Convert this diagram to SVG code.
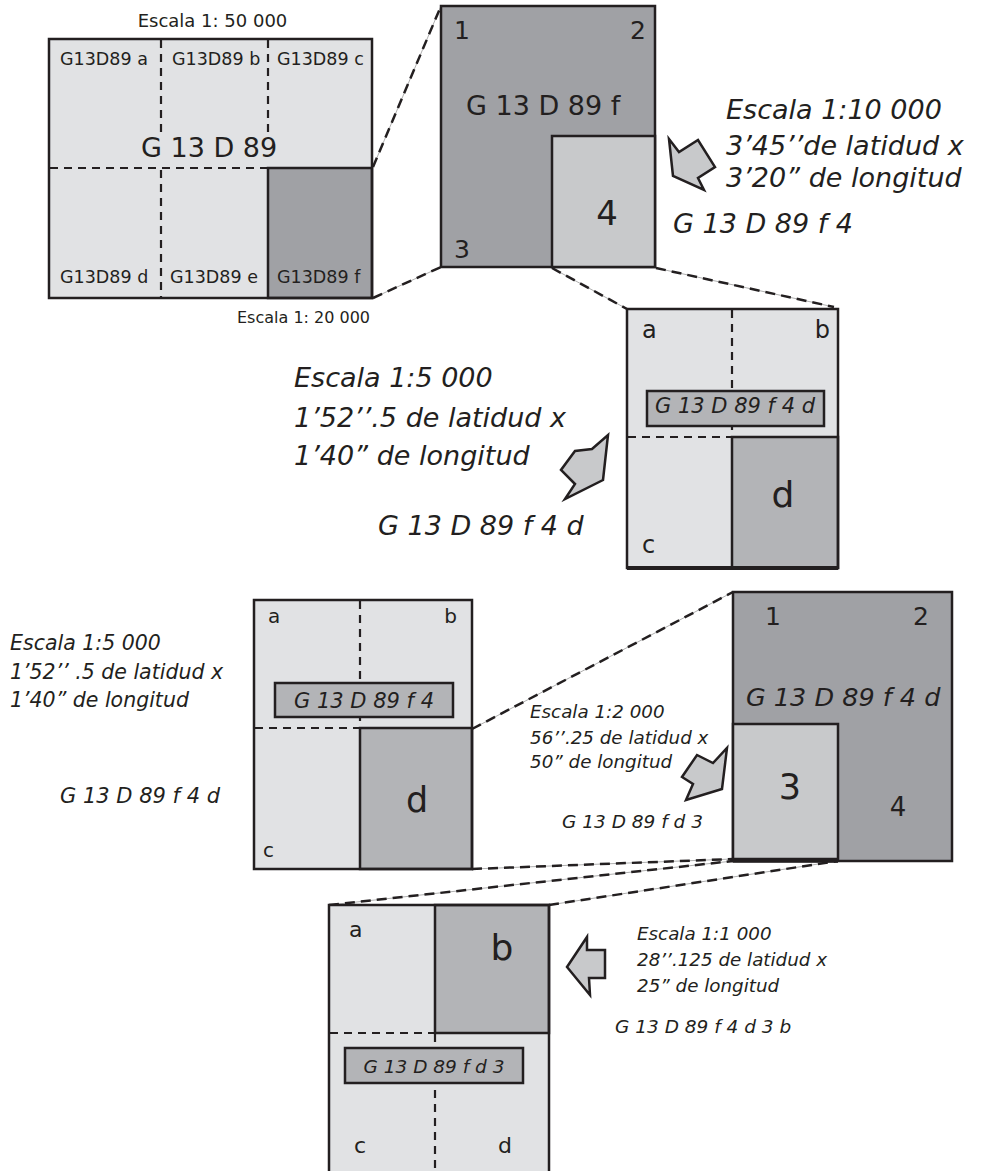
<svg xmlns="http://www.w3.org/2000/svg" width="990" height="1171" viewBox="0 0 990 1171">
<style>
.t{font-family:"DejaVu Sans","Liberation Sans",sans-serif;fill:#231f20}
.i{font-style:italic}
.frame{stroke:#231f20;stroke-width:2.5}
.light{fill:#e1e2e4}
.dark{fill:#a0a1a5}
.mid{fill:#b3b4b7}
.pale{fill:#c8c9cb}
.grid{stroke:#231f20;stroke-width:2.2;stroke-dasharray:8 6;fill:none}
.con{stroke:#231f20;stroke-width:2.5;stroke-dasharray:10 6;fill:none}
.conb{stroke:#9a9a9a;stroke-width:0.8;fill:none}
.arrow{fill:#c8c9cb;stroke:#231f20;stroke-width:2.5;stroke-linejoin:miter}
</style>
<rect width="990" height="1171" fill="#fff"/>

<g id="connectors">
  <g class="conb">
    <line x1="373" y1="167" x2="441" y2="6"/>
    <line x1="373" y1="298" x2="441" y2="267"/>
    <line x1="552" y1="268" x2="627" y2="309"/>
    <line x1="656" y1="268" x2="834" y2="307"/>
    <line x1="472" y1="729" x2="733" y2="592"/>
    <line x1="472" y1="869" x2="733" y2="859"/>
    <line x1="329" y1="905" x2="733" y2="861"/>
    <line x1="549" y1="905" x2="838" y2="861"/>
  </g>
  <g class="con">
    <line x1="373" y1="167" x2="441" y2="6"/>
    <line x1="373" y1="298" x2="441" y2="267"/>
    <line x1="552" y1="268" x2="627" y2="309"/>
    <line x1="656" y1="268" x2="834" y2="307"/>
    <line x1="472" y1="729" x2="733" y2="592"/>
    <line x1="472" y1="869" x2="733" y2="859"/>
    <line x1="329" y1="905" x2="733" y2="861"/>
    <line x1="549" y1="905" x2="838" y2="861"/>
  </g>
</g>

<g id="map-50000">
  <text class="t" x="212.5" y="27" font-size="18" text-anchor="middle">Escala 1: 50 000</text>
  <rect class="light" x="49" y="39" width="323" height="259"/>
  <line class="grid" x1="161" y1="40" x2="161" y2="133"/>
  <line class="grid" x1="268" y1="40" x2="268" y2="133"/>
  <line class="grid" x1="161" y1="170" x2="161" y2="297"/>
  <line class="grid" x1="50" y1="168" x2="268" y2="168"/>
  <rect class="dark frame" x="268" y="168" width="104" height="130"/>
  <rect class="frame" x="49" y="39" width="323" height="259" fill="none"/>
  <text class="t" x="60" y="65" font-size="17.5">G13D89 a</text>
  <text class="t" x="172" y="65" font-size="17.5">G13D89 b</text>
  <text class="t" x="277" y="65" font-size="17.5">G13D89 c</text>
  <text class="t" x="141" y="157" font-size="27">G 13 D 89</text>
  <text class="t" x="60" y="283" font-size="17.5">G13D89 d</text>
  <text class="t" x="170" y="283" font-size="17.5">G13D89 e</text>
  <text class="t" x="277" y="283" font-size="17.5">G13D89 f</text>
  <text class="t" x="237" y="323" font-size="16">Escala 1: 20 000</text>
</g>

<g id="map-10000">
  <rect class="dark frame" x="441" y="6" width="214" height="261"/>
  <rect class="pale frame" x="552" y="136" width="103" height="131"/>
  <text class="t" x="454" y="39" font-size="25">1</text>
  <text class="t" x="646" y="39" font-size="25" text-anchor="end">2</text>
  <text class="t" x="454" y="258" font-size="25">3</text>
  <text class="t" x="466" y="115" font-size="27">G 13 D 89 f</text>
  <text class="t" x="607" y="225" font-size="34" text-anchor="middle">4</text>
</g>

<g id="label-10000" class="t i" font-size="27">
  <text x="726" y="119">Escala 1:10 000</text>
  <text x="726" y="155">3’45’’de latidud x</text>
  <text x="726" y="187">3’20” de longitud</text>
  <text x="673" y="233">G 13 D 89 f 4</text>
</g>

<g id="map-5000-a">
  <rect class="light" x="627" y="309" width="211" height="259"/>
  <line class="grid" x1="732" y1="310" x2="732" y2="437"/>
  <line class="grid" x1="628" y1="437" x2="732" y2="437"/>
  <rect class="mid frame" x="732" y="437" width="106" height="131"/>
  <rect class="frame" x="627" y="309" width="211" height="259" fill="none"/>
  <line x1="627" y1="568" x2="838" y2="568" stroke="#231f20" stroke-width="4"/>
  <rect class="mid frame" x="647" y="391" width="177" height="35"/>
  <text class="t i" x="735" y="413" font-size="21" text-anchor="middle">G 13 D 89 f 4 d</text>
  <text class="t" x="642" y="338" font-size="24">a</text>
  <text class="t" x="830" y="338" font-size="24" text-anchor="end">b</text>
  <text class="t" x="642" y="553" font-size="24">c</text>
  <text class="t" x="783" y="507" font-size="36" text-anchor="middle">d</text>
</g>

<g id="label-5000-a" class="t i" font-size="27">
  <text x="294" y="387">Escala 1:5 000</text>
  <text x="294" y="427">1’52’’.5 de latidud x</text>
  <text x="294" y="465">1’40” de longitud</text>
  <text x="378" y="535">G 13 D 89 f 4 d</text>
</g>

<g id="map-5000-b">
  <rect class="light" x="254" y="600" width="218" height="269"/>
  <line class="grid" x1="360" y1="601" x2="360" y2="728"/>
  <line class="grid" x1="255" y1="728" x2="360" y2="728"/>
  <rect class="mid frame" x="360" y="728" width="112" height="141"/>
  <rect class="frame" x="254" y="600" width="218" height="269" fill="none"/>
  <rect class="mid frame" x="275" y="683" width="178" height="34"/>
  <text class="t i" x="364" y="708" font-size="21" text-anchor="middle">G 13 D 89 f 4</text>
  <text class="t" x="268" y="623" font-size="20">a</text>
  <text class="t" x="457" y="623" font-size="20" text-anchor="end">b</text>
  <text class="t" x="263" y="857" font-size="20">c</text>
  <text class="t" x="417" y="812" font-size="35" text-anchor="middle">d</text>
</g>

<g id="label-5000-b" class="t i" font-size="20.5">
  <text x="10" y="650">Escala 1:5 000</text>
  <text x="10" y="679">1’52’’ .5 de latidud x</text>
  <text x="10" y="707">1’40” de longitud</text>
  <text x="60" y="803" font-size="21">G 13 D 89 f 4 d</text>
</g>

<g id="map-2000">
  <rect class="dark frame" x="733" y="592" width="219" height="269"/>
  <rect class="pale frame" x="733" y="724" width="105" height="135"/>
  <line x1="733" y1="861" x2="838" y2="861" stroke="#231f20" stroke-width="3.5"/>
  <text class="t" x="765" y="625" font-size="25">1</text>
  <text class="t" x="929" y="625" font-size="25" text-anchor="end">2</text>
  <text class="t i" x="746" y="706" font-size="25.5">G 13 D 89 f 4 d</text>
  <text class="t" x="790" y="799" font-size="35" text-anchor="middle">3</text>
  <text class="t" x="898" y="816" font-size="26" text-anchor="middle">4</text>
</g>

<g id="label-2000" class="t i" font-size="18.3">
  <text x="530" y="718">Escala 1:2 000</text>
  <text x="530" y="744">56’’.25 de latidud x</text>
  <text x="530" y="768">50” de longitud</text>
  <text x="562" y="828" font-size="18.5">G 13 D 89 f d 3</text>
</g>

<g id="map-1000">
  <rect class="light" x="329" y="905" width="220" height="280"/>
  <line class="grid" x1="330" y1="1033" x2="435" y2="1033"/>
  <line class="grid" x1="435" y1="1034" x2="435" y2="1171"/>
  <rect class="mid frame" x="435" y="905" width="114" height="128"/>
  <rect class="frame" x="329" y="905" width="220" height="280" fill="none"/>
  <rect class="mid frame" x="345" y="1048" width="178" height="35"/>
  <text class="t i" x="434" y="1073" font-size="18.5" text-anchor="middle">G 13 D 89 f d 3</text>
  <text class="t" x="349" y="937" font-size="22">a</text>
  <text class="t" x="502" y="960" font-size="36" text-anchor="middle">b</text>
  <text class="t" x="354" y="1153" font-size="22">c</text>
  <text class="t" x="498" y="1153" font-size="22">d</text>
</g>

<g id="label-1000" class="t i" font-size="18.3">
  <text x="637" y="940">Escala 1:1 000</text>
  <text x="637" y="966">28’’.125 de latidud x</text>
  <text x="637" y="992">25” de longitud</text>
  <text x="615" y="1033" font-size="18.5">G 13 D 89 f 4 d 3 b</text>
</g>

<g id="arrows">
  <path class="arrow" d="M673,176 L669,139 L679,152 L698,140 L715,167 L698,178 L704,190 Z"/>
  <path class="arrow" d="M603,480 L608,435 L592,449 L575,451 L561,470 L575,484 L565,499 Z"/>
  <path class="arrow" d="M722,789 L686,800 L693,784 L682,777 L697,755 L713,763 L727,748 Z"/>
  <path class="arrow" d="M567,967 L587,937 L587,950 L605,950 L605,978 L589,978 L590,995 Z"/>
</g>
</svg>
